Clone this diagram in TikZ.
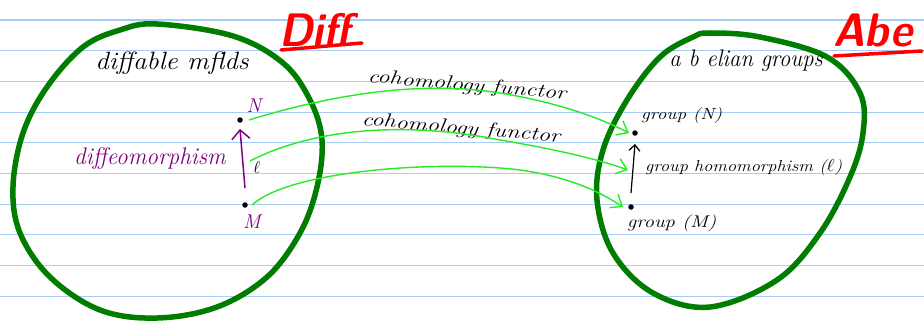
\documentclass[tikz,border=0pt]{standalone}
\usetikzlibrary{arrows.meta}
\definecolor{ruled}{RGB}{165,205,245}
\definecolor{blobgreen}{RGB}{0,125,0}
\definecolor{fgreen}{RGB}{40,235,40}
\definecolor{purp}{RGB}{128,0,128}
\tikzset{
  ruleline/.style={draw=ruled, line width=1.1pt},
  blob/.style={draw=blobgreen, line width=5.5pt},
  functor/.style={draw=fgreen, line width=1.4pt, -{Straight Barb[length=10pt,width=16pt,line width=1.4pt]}},
  hand/.style={font=\itshape, inner sep=0pt},
  title/.style={text=red, font=\fontsize{47}{47}\selectfont\sffamily\bfseries\itshape, inner sep=0pt},
  underl/.style={draw=red, line width=3.5pt, line cap=round},
  pt/.style={circle, fill=black, inner sep=0pt, minimum size=5.5pt},
}
\begin{document}
\begin{tikzpicture}[x=1pt,y=-1pt]
\useasboundingbox[fill=white] (0,0) rectangle (924,321);
% ruled lines
\foreach \yy in {20,50.7,81.4,112.1,142.8,173.5,204.2,234.9,265.6,296.3}
  \draw[ruleline] (0,\yy) -- (924,\yy);
% left blob
\draw[blob] plot[smooth cycle, tension=0.6] coordinates {
 (157,24) (233,36) (283,63) (310,100) (322,140) (317,187) (300,233)
 (267,277) (217,307) (157,318) (100,310) (50,277) (20,233) (13,187)
 (23,133) (47,87) (83,47) (120,30)};
% right blob
\draw[blob] plot[smooth cycle, tension=0.6] coordinates {
 (710,33) (760,37) (827,57) (860,93) (863,133) (850,177) (820,233)
 (777,280) (710,307) (653,293) (613,253) (597,200) (603,150) (627,100)
 (660,57) (693,37)};
% titles
\node[title, anchor=base west] (diff) at (279,47) {\scalebox{0.9}[1]{Diff}};
\draw[underl] (281,50) -- (362,43);
\node[title, anchor=base west] (abe) at (833,47) {\scalebox{0.92}[1]{Abe}};
\draw[underl] (834,56) -- (922,51);
% labels
\node[hand, font=\fontsize{25}{25}\selectfont\itshape] (dm) at (172,63) {\scalebox{1.08}[1]{diffable mflds}};
\node[hand, font=\fontsize{24}{24}\selectfont\itshape] (ag) at (746,61) {\scalebox{0.94}[1]{a b elian groups}};
% left points
\node[pt] (N) at (240,120) {};
\node[pt] (M) at (245,205) {};
\node[hand, text=purp, font=\fontsize{20}{20}\selectfont\itshape] (Nl) at (254,106) {N};
\node[hand, text=purp, font=\fontsize{20}{20}\selectfont\itshape] (Ml) at (252,222) {M};
\node[hand, font=\fontsize{18}{18}\selectfont] (el) at (257,167) {$\ell$};
\node[hand, text=purp, font=\fontsize{24}{24}\selectfont\itshape] (dl) at (150,158) {\scalebox{0.97}[1]{diffeomorphism}};
\draw[purp, line width=1.5pt, -{Straight Barb[length=9pt,width=18pt,line width=1.5pt]}] ([yshift=14pt]M.north) -- ([yshift=-6pt]N.south);
% right points
\node[pt] (gN) at (635,133) {};
\node[pt] (gM) at (631,207) {};
\node[hand, font=\fontsize{16}{16}\selectfont\itshape, anchor=west] (gNl) at (641,116) {\scalebox{1.2}[1]{group (N)}};
\node[hand, font=\fontsize{17}{17}\selectfont\itshape, anchor=west] (gMl) at (627,223) {\scalebox{1.2}[1]{group (M)}};
\node[hand, font=\fontsize{16}{16}\selectfont\itshape, anchor=west] (ghl) at (645,168) {\scalebox{1.14}[1]{group homomorphism ($\ell$)}};
\draw[black, line width=1.2pt, -{Straight Barb[length=6pt,width=11pt,line width=1.2pt]}] ([yshift=11pt]gM.north) -- ([yshift=-8pt]gN.south);
% functor labels
\node[hand, font=\fontsize{19}{19}\selectfont\itshape, rotate=-5] (cf1) at (467,86) {\scalebox{1.27}[1]{cohomology functor}};
\node[hand, font=\fontsize{19}{19}\selectfont\itshape, rotate=-5] (cf2) at (461,129) {\scalebox{1.27}[1]{cohomology functor}};
% functor arrows
\coordinate (s1) at (249,120);
\coordinate (s2) at (250,161);
\coordinate (s3) at (252,205);
\coordinate (t2) at (628,170);
\draw[functor] (s1) .. controls (330,95) and (420,80) .. (500,93) .. controls (560,103) and (600,118) .. ([xshift=-3pt]gN.west);
\draw[functor] (s2) .. controls (310,130) and (400,120) .. (500,140) .. controls (560,150) and (600,160) .. (t2);
\draw[functor] (s3) .. controls (290,170) and (440,160) .. (520,170) .. controls (570,177) and (600,192) .. ([xshift=-5pt]gM.west);
\end{tikzpicture}
\end{document}
